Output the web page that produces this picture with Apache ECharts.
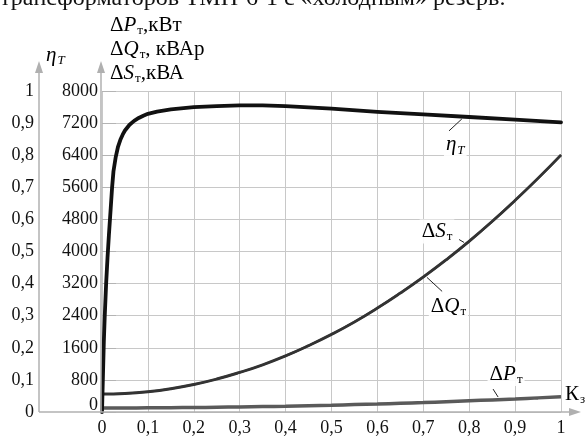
<!DOCTYPE html>
<html><head><meta charset="utf-8">
<script src="https://cdn.jsdelivr.net/npm/echarts@6/dist/echarts.min.js"></script>
<style>html,body{margin:0;padding:0;background:#fff}#c{width:587px;height:437px}</style>
</head><body><div id="c"></div>
<script>
// ---- data ----
var kLoad = [0,0.05,0.1,0.15,0.2,0.25,0.3,0.35,0.4,0.45,0.5,0.55,0.6,0.65,0.7,0.75,0.8,0.85,0.9,0.95,1.0];
var dQ = [440,455,500,575,680,815,980,1170,1395,1650,1930,2240,2585,2960,3360,3790,4250,4745,5270,5820,6400];
var dS = [452,467,512,587,692,827,992,1182,1405,1660,1940,2250,2595,2970,3370,3800,4260,4755,5280,5830,6410];
var dP = [100,101,104,108,112,118,126,135,145,157,170,185,200,217,235,257,280,302,325,352,380];
var etaK = [0,0.002,0.004,0.006,0.009,0.012,0.015,0.019,0.022,0.025,0.03,0.035,0.04,0.045,0.05,0.06,0.07,0.08,0.09,0.1,0.12,0.15,0.2,0.25,0.3,0.35,0.4,0.45,0.5,0.6,0.7,0.8,0.9,1.0];
var etaV = [0,0.11,0.22,0.30,0.40,0.48,0.55,0.635,0.70,0.75,0.795,0.827,0.848,0.864,0.877,0.895,0.907,0.916,0.923,0.929,0.936,0.943,0.950,0.953,0.955,0.955,0.953,0.949,0.945,0.935,0.927,0.919,0.911,0.902];
var xTicks = ['0','0,1','0,2','0,3','0,4','0,5','0,6','0,7','0,8','0,9','1'];
var etaTicks = ['0','0,1','0,2','0,3','0,4','0,5','0,6','0,7','0,8','0,9','1'];

function pairs(xs, ys){ return xs.map(function(x,i){return [x, ys[i]];}); }

var FONT = '"Liberation Serif","DejaVu Serif",serif';
var chart = echarts.init(document.getElementById('c'));
chart.setOption({
  backgroundColor: '#fff',
  animation: false,
  grid: {left: 102, right: 26, top: 91, bottom: 24},
  xAxis: {
    type: 'value', min: 0, max: 1, interval: 0.1,
    axisLine: {show: false}, axisTick: {show: false},
    axisLabel: {fontFamily: FONT, fontSize: 18, color: '#111', margin: 7,
      formatter: function(v){ return xTicks[Math.round(v*10)]; }},
    splitLine: {show: true, lineStyle: {color: '#c8c8c8', width: 1}}
  },
  yAxis: [
    {type: 'value', min: 0, max: 1, interval: 0.1, position: 'left', offset: 63,
     axisLine: {show: false},
     axisTick: {show: true, inside: true, length: 14, lineStyle: {color: '#b4b4b4'}},
     axisLabel: {fontFamily: FONT, fontSize: 18, color: '#111', margin: 5,
       formatter: function(v){ return etaTicks[Math.round(v*10)]; }},
     splitLine: {show: false}},
    {type: 'value', min: 0, max: 8000, interval: 800, position: 'left',
     axisLine: {show: false}, axisTick: {show: false},
     axisLabel: {fontFamily: FONT, fontSize: 18, color: '#111', margin: 4,
       formatter: function(v){ return v === 0 ? '{z|0}' : String(v); },
       rich: {z: {fontFamily: FONT, fontSize: 18, color: '#111', padding: [0,0,14,0]}}},
     splitLine: {show: true, lineStyle: {color: '#c8c8c8', width: 1}}}
  ],
  series: [
    {name: 'dP', type: 'line', yAxisIndex: 1, data: pairs(kLoad, dP), showSymbol: false, smooth: true,
     lineStyle: {color: '#5a5a5a', width: 3.5}, z: 3},
    {name: 'dS', type: 'line', yAxisIndex: 1, data: pairs(kLoad, dS), showSymbol: false, smooth: true,
     lineStyle: {color: '#3a3a3a', width: 2.5}, z: 4},
    {name: 'dQ', type: 'line', yAxisIndex: 1, data: pairs(kLoad, dQ), showSymbol: false, smooth: true,
     lineStyle: {color: '#333', width: 2.5}, z: 5},
    {name: 'eta', type: 'line', yAxisIndex: 0, data: pairs(etaK, etaV), showSymbol: false, smooth: false,
     lineStyle: {color: '#111', width: 3.8, join: 'round', cap: 'round'}, z: 6}
  ]
});

// annotation anchors in data coordinates [k, value on ΔP/ΔQ/ΔS axis]
var labels = [
  {at: [0.745, 6658], parts: [['it','η'],['sit','T']]},
  {at: [0.692, 4497], parts: [['n','Δ'],['it','S'],['sub','т']]},
  {at: [0.712, 2634], parts: [['n','Δ'],['it','Q'],['sub','т']]},
  {at: [0.840, 944],  parts: [['n','Δ'],['it','P'],['sub','т']]}
];
var leaders = [
  [[0.756, 7006],[0.784, 7304]],
  [[0.778, 4298],[0.789, 4224]],
  [[0.708, 3354],[0.741, 3006]],
  [[0.852, 571],[0.863, 373]]
];

var rich = {
  n: {fontFamily: FONT, fontSize: 21, color: '#111'},
  it: {fontFamily: FONT, fontSize: 21, fontStyle: 'italic', color: '#111'},
  sub: {fontFamily: FONT, fontSize: 13, color: '#111', padding: [11,0,0,1]},
  sit: {fontFamily: FONT, fontSize: 13, fontStyle: 'italic', color: '#111', padding: [11,0,0,1]},
  u: {fontFamily: FONT, fontSize: 21, color: '#111'}
};
function richText(parts){ return parts.map(function(p){ return '{'+p[0]+'|'+p[1]+'}'; }).join(''); }

function px(p){ return chart.convertToPixel({xAxisIndex: 0, yAxisIndex: 1}, p); }
var g = [];
labels.forEach(function(l){
  var p = px(l.at);
  g.push({type: 'text', x: p[0], y: p[1], z: 20,
    style: {text: richText(l.parts), rich: rich, textAlign: 'left', textVerticalAlign: 'middle',
      backgroundColor: 'rgba(255,255,255,0.9)', padding: [0,2]}});
});
leaders.forEach(function(s){
  var a = px(s[0]), b = px(s[1]);
  g.push({type: 'line', z: 21, shape: {x1: a[0], y1: a[1], x2: b[0], y2: b[1]}, style: {stroke: '#222', lineWidth: 1}});
});

// axis lines with arrows (built from the axes' own pixel extents)
var o = px([0,0]), top1 = px([0,8000]), right1 = px([1,0]);
var etaX = o[0] - 63;
var axisCol = '#b0b0b0';
g.push({type: 'line', z: 10, shape: {x1: etaX, y1: o[1], x2: etaX, y2: top1[1]-20}, style: {stroke: axisCol, lineWidth: 1.5}});
g.push({type: 'polygon', z: 10, shape: {points: [[etaX-4, top1[1]-18],[etaX, top1[1]-30],[etaX+4, top1[1]-18]]}, style: {fill: axisCol}});
g.push({type: 'line', z: 10, shape: {x1: o[0]-1, y1: o[1], x2: o[0]-1, y2: top1[1]-20}, style: {stroke: axisCol, lineWidth: 1.5}});
g.push({type: 'polygon', z: 10, shape: {points: [[o[0]-5, top1[1]-18],[o[0]-1, top1[1]-30],[o[0]+3, top1[1]-18]]}, style: {fill: axisCol}});
g.push({type: 'line', z: 10, shape: {x1: etaX, y1: o[1], x2: right1[0]+10, y2: o[1]}, style: {stroke: axisCol, lineWidth: 1.5}});
g.push({type: 'polygon', z: 10, shape: {points: [[right1[0]+8, o[1]-4],[right1[0]+20, o[1]],[right1[0]+8, o[1]+4]]}, style: {fill: axisCol}});

// axis titles
g.push({type: 'text', x: etaX + 7, y: top1[1] - 36, z: 20,
  style: {text: richText([['it','η'],['sit','T']]), rich: rich, textAlign: 'left', textVerticalAlign: 'middle'}});
g.push({type: 'text', x: o[0] + 8, y: top1[1] - 66, z: 20,
  style: {text: richText([['n','Δ'],['it','P'],['sub','т'],['u',',кВт']]), rich: rich, textAlign: 'left', textVerticalAlign: 'middle'}});
g.push({type: 'text', x: o[0] + 8, y: top1[1] - 42, z: 20,
  style: {text: richText([['n','Δ'],['it','Q'],['sub','т'],['u',', кВАр']]), rich: rich, textAlign: 'left', textVerticalAlign: 'middle'}});
g.push({type: 'text', x: o[0] + 8, y: top1[1] - 18, z: 20,
  style: {text: richText([['n','Δ'],['it','S'],['sub','т'],['u',',кВА']]), rich: rich, textAlign: 'left', textVerticalAlign: 'middle'}});
g.push({type: 'text', x: right1[0] + 4, y: o[1] - 18, z: 20,
  style: {text: '{u|К}{sub|з}', rich: rich, textAlign: 'left', textVerticalAlign: 'middle'}});
// clipped caption at very top
g.push({type: 'text', x: 0, y: 11, z: 20,
  style: {text: 'трансформаторов ТМН-6-1 с «холодным» резерв.', fontFamily: FONT, fontSize: 24, fill: '#111',
    textAlign: 'left', textVerticalAlign: 'bottom'}});

chart.setOption({graphic: g});
</script></body></html>
